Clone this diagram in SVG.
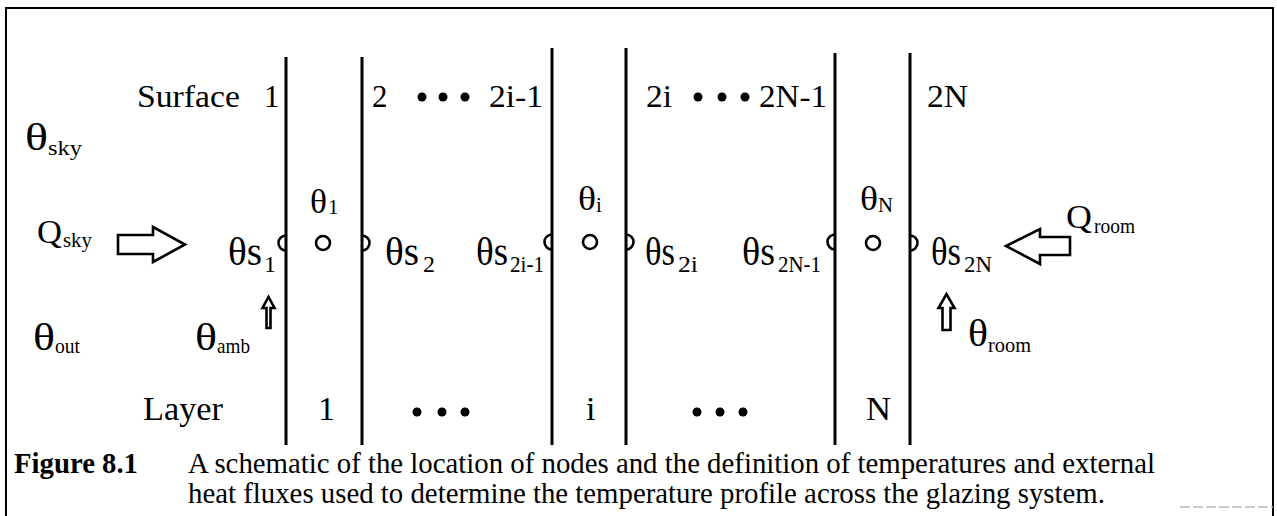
<svg xmlns="http://www.w3.org/2000/svg" width="1277" height="516" viewBox="0 0 1277 516">
<style>
text{font-family:"Liberation Serif","Times New Roman",serif;fill:#000}
.m{font-size:31px}
.l{font-size:34px}
.t{font-size:37px}
.ts{font-size:40px}
.sub{font-size:21px}
.sb{font-size:24px}
.cap{font-size:29px}
.b{font-weight:bold}
.wall{stroke:#000;stroke-width:3;fill:none}
.node{stroke:#000;stroke-width:2.6;fill:none}
.arr{stroke:#000;stroke-width:2.6;fill:#fff;stroke-linejoin:miter}
</style>
<rect width="1277" height="516" fill="#fff"/>
<path d="M6,520 V8 H1273 V520" fill="none" stroke="#000" stroke-width="2"/>
<line x1="1180" y1="507" x2="1273" y2="507" stroke="#bbb" stroke-width="1.5" stroke-dasharray="10,3"/>

<g id="surfaces">
<line class="wall" x1="286" y1="57" x2="286" y2="445"/>
<line class="wall" x1="362" y1="57" x2="362" y2="445"/>
<line class="wall" x1="552" y1="48" x2="552" y2="445"/>
<line class="wall" x1="626" y1="48" x2="626" y2="445"/>
<line class="wall" x1="835" y1="53" x2="835" y2="445"/>
<line class="wall" x1="910" y1="53" x2="910" y2="445"/>
</g>

<g id="surface-nodes">
<path class="node" d="M286,235.5 A7.5,7.5 0 0 0 286,250.5"/>
<path class="node" d="M362,235.5 A7.5,7.5 0 0 1 362,250.5"/>
<path class="node" d="M552,234.5 A7.5,7.5 0 0 0 552,249.5"/>
<path class="node" d="M626,234.5 A7.5,7.5 0 0 1 626,249.5"/>
<path class="node" d="M835,234.5 A7.5,7.5 0 0 0 835,249.5"/>
<path class="node" d="M910,235.5 A7.5,7.5 0 0 1 910,250.5"/>
</g>

<g id="layer-nodes">
<circle class="node" cx="323" cy="243" r="7"/>
<circle class="node" cx="590" cy="242" r="7"/>
<circle class="node" cx="873" cy="243" r="7"/>
</g>

<g id="surface-labels">
<text class="m" x="137" y="107" textLength="103" lengthAdjust="spacingAndGlyphs">Surface</text>
<text class="m" x="264" y="107">1</text>
<text class="m" x="372" y="107">2</text>
<circle cx="422" cy="97" r="4.5"/><circle cx="443" cy="97" r="4.5"/><circle cx="465" cy="97" r="4.5"/>
<text class="m" x="489" y="107" textLength="54" lengthAdjust="spacingAndGlyphs">2i-1</text>
<text class="m" x="646" y="107" textLength="26" lengthAdjust="spacingAndGlyphs">2i</text>
<circle cx="698" cy="97" r="4.5"/><circle cx="722" cy="97" r="4.5"/><circle cx="745" cy="97" r="4.5"/>
<text class="m" x="759" y="107" textLength="68" lengthAdjust="spacingAndGlyphs">2N-1</text>
<text class="m" x="927" y="107" textLength="41" lengthAdjust="spacingAndGlyphs">2N</text>
</g>

<g id="layer-labels">
<text class="l" x="143" y="420" textLength="80" lengthAdjust="spacingAndGlyphs">Layer</text>
<text class="l" x="318" y="420">1</text>
<circle cx="417" cy="412" r="4.5"/><circle cx="442" cy="412" r="4.5"/><circle cx="465" cy="412" r="4.5"/>
<text class="l" x="586" y="420">i</text>
<circle cx="697" cy="412" r="4.5"/><circle cx="720" cy="412" r="4.5"/><circle cx="743" cy="412" r="4.5"/>
<text class="l" x="866" y="420" textLength="25" lengthAdjust="spacingAndGlyphs">N</text>
</g>

<g id="outside">
<text class="t" x="25" y="150" textLength="23" lengthAdjust="spacingAndGlyphs">θ</text>
<text class="sub" x="48" y="155" textLength="34" lengthAdjust="spacingAndGlyphs">sky</text>
<text class="l" x="37" y="243" textLength="25" lengthAdjust="spacingAndGlyphs">Q</text>
<text class="sub" x="63" y="247" textLength="29" lengthAdjust="spacingAndGlyphs">sky</text>
<text class="t" x="33" y="350" textLength="22" lengthAdjust="spacingAndGlyphs">θ</text>
<text class="sub" x="55" y="353" textLength="25" lengthAdjust="spacingAndGlyphs">out</text>
<text class="t" x="195" y="350" textLength="22" lengthAdjust="spacingAndGlyphs">θ</text>
<text class="sub" x="217" y="353" textLength="33" lengthAdjust="spacingAndGlyphs">amb</text>
</g>

<g id="layer-temps">
<text class="l" x="310" y="213" textLength="17" lengthAdjust="spacingAndGlyphs">θ</text>
<text class="sub" x="328" y="214">1</text>
<text class="l" x="578" y="210" textLength="18" lengthAdjust="spacingAndGlyphs">θ</text>
<text class="sub" x="596" y="212">i</text>
<text class="l" x="860" y="210" textLength="18" lengthAdjust="spacingAndGlyphs">θ</text>
<text class="sub" x="878" y="212" textLength="15" lengthAdjust="spacingAndGlyphs">N</text>
</g>

<g id="surface-temps">
<text class="ts" x="228" y="265" textLength="34" lengthAdjust="spacingAndGlyphs">θs</text>
<text class="sb" x="264" y="272">1</text>
<text class="ts" x="385" y="265" textLength="34" lengthAdjust="spacingAndGlyphs">θs</text>
<text class="sb" x="423" y="272">2</text>
<text class="ts" x="476" y="265" textLength="32" lengthAdjust="spacingAndGlyphs">θs</text>
<text class="sb" x="510" y="272" textLength="34" lengthAdjust="spacingAndGlyphs">2i-1</text>
<text class="ts" x="645" y="265" textLength="30" lengthAdjust="spacingAndGlyphs">θs</text>
<text class="sb" x="678" y="272" textLength="20" lengthAdjust="spacingAndGlyphs">2i</text>
<text class="ts" x="742" y="265" textLength="33" lengthAdjust="spacingAndGlyphs">θs</text>
<text class="sb" x="778" y="272" textLength="43" lengthAdjust="spacingAndGlyphs">2N-1</text>
<text class="ts" x="931" y="265" textLength="30" lengthAdjust="spacingAndGlyphs">θs</text>
<text class="sb" x="964" y="272" textLength="28" lengthAdjust="spacingAndGlyphs">2N</text>
</g>

<g id="room">
<text class="l" x="1066" y="228" textLength="26" lengthAdjust="spacingAndGlyphs">Q</text>
<text class="sub" x="1094" y="233" textLength="41" lengthAdjust="spacingAndGlyphs">room</text>
<text class="t" x="968" y="346" textLength="20" lengthAdjust="spacingAndGlyphs">θ</text>
<text class="sub" x="988" y="352" textLength="43" lengthAdjust="spacingAndGlyphs">room</text>
</g>

<g id="connectors">
<polygon class="arr" points="118,235 153,235 153,227 185,244.5 153,262 153,254 118,254"/>
<polygon class="arr" points="1070,237 1040,237 1040,229 1006,246 1040,264 1040,255 1070,255"/>
<polygon class="arr" points="266.5,328 266.5,308 262.5,308 268.5,297 274.5,308 270.5,308 270.5,328"/>
<polygon class="arr" points="942.5,330 942.5,308 938.5,308 946.5,294 954.5,308 950.5,308 950.5,330"/>
</g>

<g id="caption">
<text class="cap b" x="14" y="473" textLength="124" lengthAdjust="spacingAndGlyphs">Figure 8.1</text>
<text class="cap" x="188" y="473" textLength="967" lengthAdjust="spacingAndGlyphs">A schematic of the location of nodes and the definition of temperatures and external</text>
<text class="cap" x="188" y="503" textLength="917" lengthAdjust="spacingAndGlyphs">heat fluxes used to determine the temperature profile across the glazing system.</text>
</g>
</svg>
